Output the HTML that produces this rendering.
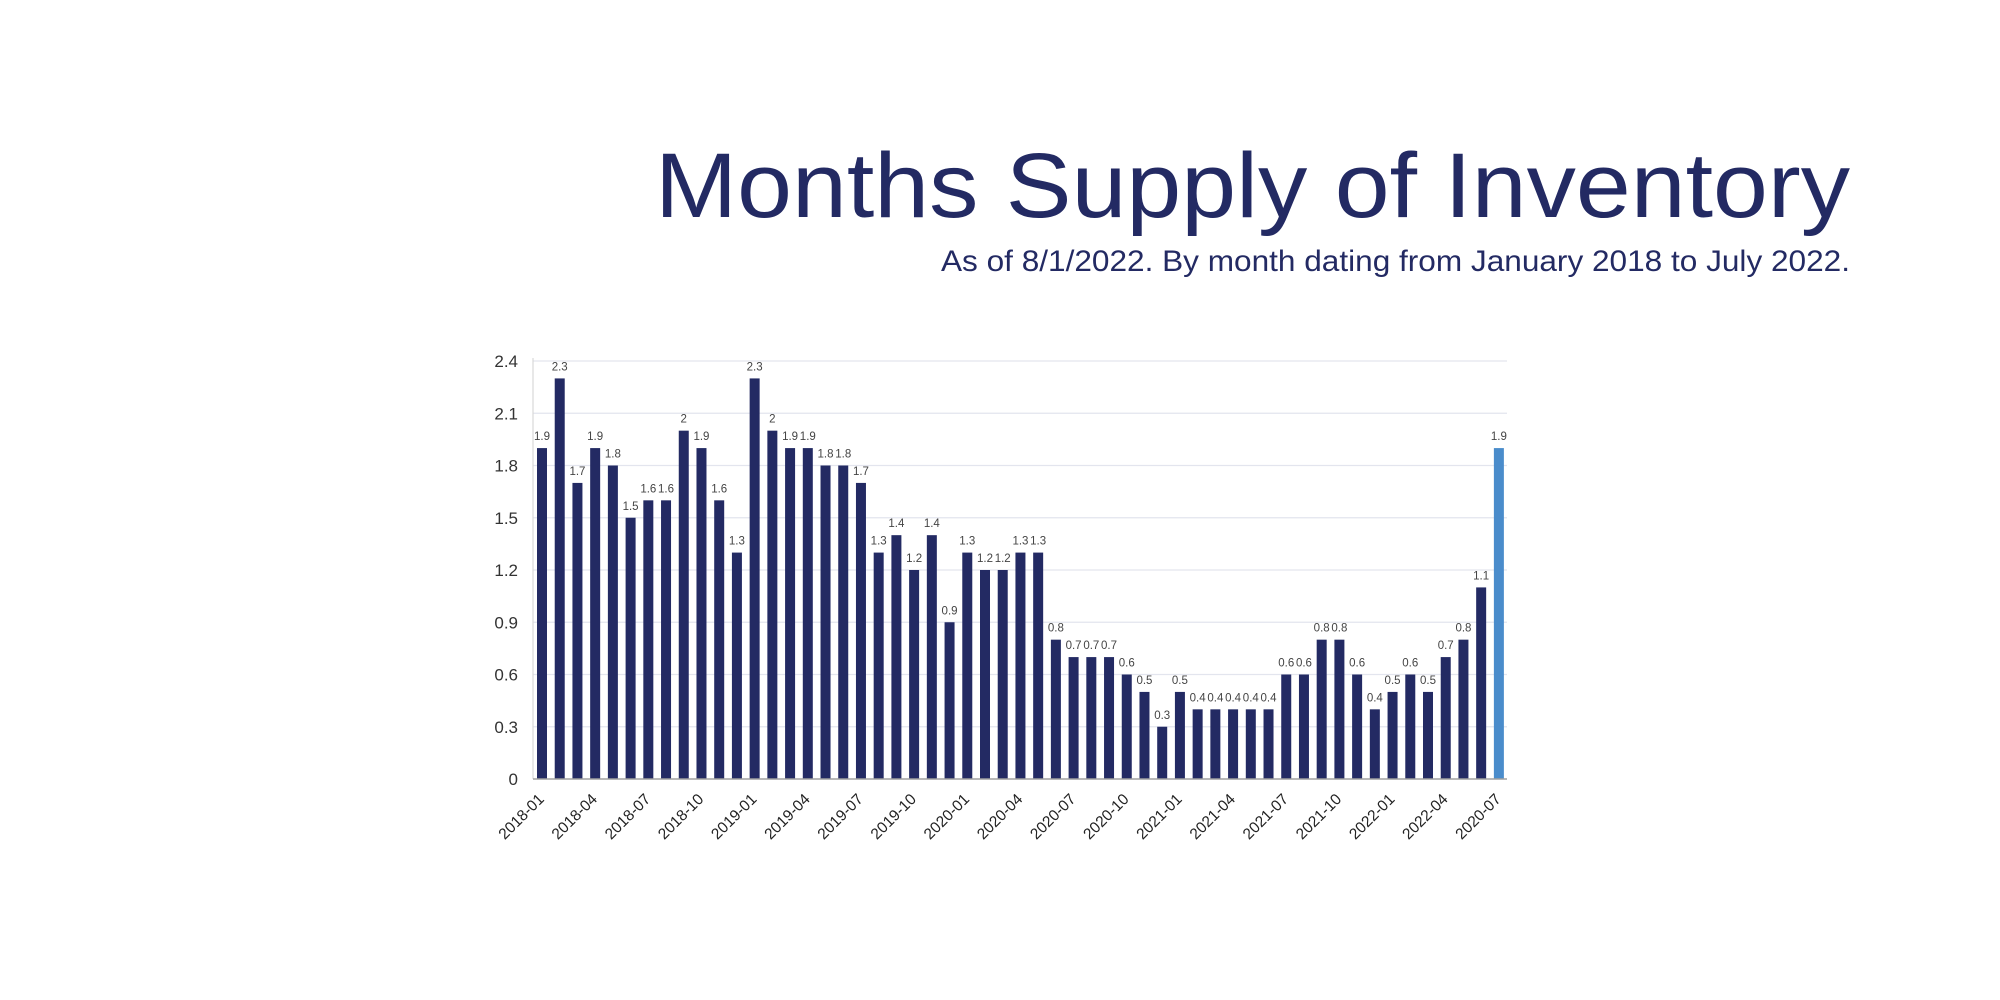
<!DOCTYPE html>
<html><head><meta charset="utf-8"><style>
html,body{margin:0;padding:0;background:#fff;}
svg{display:block;font-family:"Liberation Sans",Arial,sans-serif;}
</style></head><body>
<svg width="2000" height="1000" viewBox="0 0 2000 1000" xmlns="http://www.w3.org/2000/svg" id="c">
<rect width="2000" height="1000" fill="#fff"/>
<text x="655" y="217" font-size="92" fill="#232a63" textLength="1195" lengthAdjust="spacingAndGlyphs">Months Supply of Inventory</text>
<text x="941" y="271" font-size="30" fill="#232a63" textLength="909" lengthAdjust="spacingAndGlyphs">As of 8/1/2022. By month dating from January 2018 to July 2022.</text>
<g id="grid"></g>
<g id="bars"></g>
</svg>
<script>
const vals=[1.9,2.3,1.7,1.9,1.8,1.5,1.6,1.6,2,1.9,1.6,1.3,
2.3,2,1.9,1.9,1.8,1.8,1.7,1.3,1.4,1.2,1.4,0.9,
1.3,1.2,1.2,1.3,1.3,0.8,0.7,0.7,0.7,0.6,0.5,0.3,
0.5,0.4,0.4,0.4,0.4,0.4,0.6,0.6,0.8,0.8,0.6,0.4,
0.5,0.6,0.5,0.7,0.8,1.1,1.9];
const NS="http://www.w3.org/2000/svg";
function el(t,a,txt){const e=document.createElementNS(NS,t);for(const k in a)e.setAttribute(k,a[k]);if(txt!==undefined)e.textContent=txt;return e;}
const g=document.getElementById('grid'),b=document.getElementById('bars');
const y0=779,H=418,x0=533,x1=1507;
for(let i=0;i<=8;i++){
 const v=i*0.3,y=y0-v/2.4*H;
 if(i>0)g.appendChild(el('line',{x1:x0,x2:x1,y1:y,y2:y,stroke:'#e3e5ee','stroke-width':1.2}));
 g.appendChild(el('text',{x:518,y:y+6,'font-size':17,fill:'#333','text-anchor':'end'},i==0?'0':v.toFixed(1)));
}
g.appendChild(el('line',{x1:x0,x2:x0,y1:358,y2:y0,stroke:'#d8d8d8','stroke-width':1.2}));
const lab=i=>{if(i==54)return '2020-07';const y=2018+Math.floor(i/12),m=i%12+1;return y+'-'+(m<10?'0':'')+m;};
vals.forEach((v,i)=>{
 const cx=542+i*17.72,h=v/2.4*H;
 b.appendChild(el('rect',{x:cx-5,y:y0-h,width:10,height:h,fill:i==54?'#4a8ccb':'#232a63'}));
 b.appendChild(el('text',{x:cx,y:y0-h-8,'font-size':11.5,fill:'#444','text-anchor':'middle'},String(v)));
 if(i%3==0||i==54){
  b.appendChild(el('text',{x:cx+3,y:800,'font-size':15.5,fill:'#222','text-anchor':'end',transform:`rotate(-45 ${cx+3} 800)`},lab(i)));
 }
});
b.appendChild(el('line',{x1:x0,x2:x1,y1:y0,y2:y0,stroke:'#a0a0a0','stroke-width':1.5}));
</script>
</body></html>
